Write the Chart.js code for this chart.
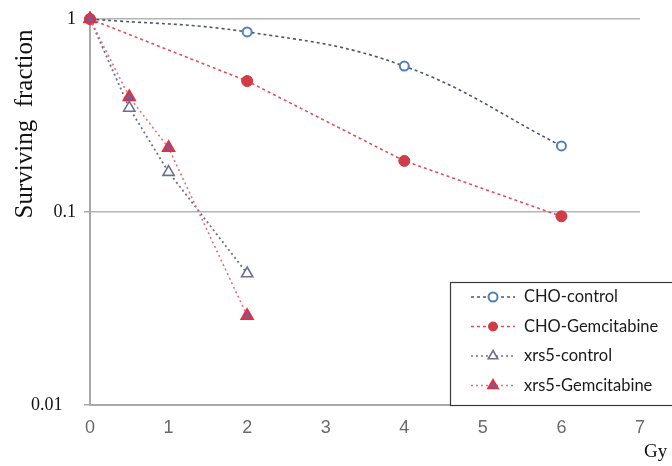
<!DOCTYPE html>
<html>
<head>
<meta charset="utf-8">
<script src="https://cdn.jsdelivr.net/npm/chart.js@4.4.0/dist/chart.umd.min.js"></script>
<style>
  html, body { margin: 0; padding: 0; background: #fff; }
  #wrap { width: 672px; height: 466px; position: relative; }
</style>
</head>
<body>
<div id="wrap"><canvas id="chart" width="672" height="466"></canvas></div>
<script>
// dose (Gy) and surviving fraction
var choDose = [0, 2, 4, 6];
var choControl = [1, 0.857, 0.57, 0.22];
var choGem = [1, 0.477, 0.184, 0.095];
var xrsDose = [0, 0.5, 1, 2];
var xrsControl = [1, 0.346, 0.161, 0.048];
var xrsGem = [1, 0.394, 0.215, 0.029];
var yTicks = [0.01, 0.1, 1];
var xTicks = [0, 1, 2, 3, 4, 5, 6, 7];

function pts(xs, ys) {
    return xs.map(function (x, i) { return { x: x, y: ys[i] }; });
}

var datasets = [
    { label: 'CHO-control', data: pts(choDose, choControl), borderColor: '#4d5566', borderDash: [3, 3], borderWidth: 1.6,
      tension: 0.4, pointStyle: 'circle', pointRadius: 4.5, pointBorderWidth: 2,
      pointBorderColor: '#4f7fbd', pointBackgroundColor: '#ffffff', order: 4 },
    { label: 'CHO-Gemcitabine', data: pts(choDose, choGem), borderColor: '#e0505a', borderDash: [3, 3], borderWidth: 1.6,
      tension: 0, pointStyle: 'circle', pointRadius: 5.5, pointBorderWidth: 1,
      pointBorderColor: '#cc3a45', pointBackgroundColor: '#d23c47', order: 3 },
    { label: 'xrs5-control', data: pts(xrsDose, xrsControl), borderColor: '#6d7384', borderDash: [2, 3], borderWidth: 1.8,
      tension: 0, pointStyle: 'triangle', pointRadius: 6.5, pointBorderWidth: 1.6,
      pointBorderColor: '#6a7090', pointBackgroundColor: '#ffffff', order: 2 },
    { label: 'xrs5-Gemcitabine', data: pts(xrsDose, xrsGem), borderColor: '#e8707a', borderDash: [2, 3], borderWidth: 1.6,
      tension: 0, pointStyle: 'triangle', pointRadius: 6.5, pointBorderWidth: 2,
      pointBorderColor: '#e03040', pointBackgroundColor: '#7a5a9c', order: 1 }
];
datasets.forEach(function (d) { d.clip = false; d.fill = false; });

var boxLegend = {
    id: 'boxLegend',
    afterDatasetsDraw: function (chart) {
        var ctx = chart.ctx;
        var left = 450, top = 282, right = 700, bottom = 405;
        ctx.save();
        ctx.fillStyle = '#ffffff';
        ctx.fillRect(left, top, right - left, bottom - top);
        ctx.strokeStyle = '#3a3a3a';
        ctx.lineWidth = 1.2;
        ctx.strokeRect(left + 0.5, top + 0.5, right - left, bottom - top);
        chart.data.datasets.forEach(function (ds, i) {
            var y = 297 + i * 29.5;
            ctx.strokeStyle = ds.borderColor;
            ctx.lineWidth = 1.4;
            ctx.setLineDash(ds.borderDash);
            ctx.beginPath();
            ctx.moveTo(471, y);
            ctx.lineTo(515, y);
            ctx.stroke();
            ctx.setLineDash([]);
            ctx.fillStyle = ds.pointBackgroundColor;
            ctx.strokeStyle = ds.pointBorderColor;
            ctx.lineWidth = ds.pointBorderWidth;
            Chart.helpers.drawPoint(ctx, { pointStyle: ds.pointStyle, radius: ds.pointStyle === 'triangle' ? 5.5 : 4.5,
                rotation: 0, borderWidth: ds.pointBorderWidth }, 493, y);
            ctx.fillStyle = '#1a1a1a';
            ctx.font = '16.5px Lato, "Open Sans", sans-serif';
            ctx.textBaseline = 'middle';
            ctx.textAlign = 'left';
            ctx.fillText(ds.label, 524, y);
        });
        ctx.restore();
    },
    afterDraw: function (chart) {
        var ctx = chart.ctx;
        ctx.save();
        ctx.fillStyle = '#111';
        ctx.font = '19px "Liberation Serif", "DejaVu Serif", serif';
        ctx.textAlign = 'left';
        ctx.textBaseline = 'middle';
        ctx.fillText('Gy', 644, 452);
        // y axis title, placed as in the figure (above the axis middle)
        ctx.translate(25, 124);
        ctx.rotate(-Math.PI / 2);
        ctx.textAlign = 'center';
        ctx.font = '25px "Liberation Serif", "DejaVu Serif", serif';
        ctx.fillText('Surviving  fraction', 0, 0);
        ctx.restore();
    }
};

new Chart(document.getElementById('chart'), {
    type: 'line',
    data: { datasets: datasets },
    plugins: [boxLegend],
    options: {
        responsive: false,
        animation: false,
        layout: { padding: { top: 19, right: 32, bottom: 0, left: 0 } },
        plugins: { legend: { display: false }, tooltip: { enabled: false } },
        scales: {
            x: {
                type: 'linear', min: 0, max: 7,
                afterBuildTicks: function (s) { s.ticks = xTicks.map(function (v) { return { value: v }; }); },
                afterFit: function (s) { s.height = 61; },
                grid: { display: false },
                border: { display: true, color: '#a8a8a8', width: 2 },
                ticks: { color: '#6a6a6a', padding: 4, font: { family: '"Liberation Sans Narrow", "Liberation Sans", sans-serif', size: 18 } }
            },
            y: {
                type: 'logarithmic', min: 0.01, max: 1,
                afterBuildTicks: function (s) { s.ticks = yTicks.map(function (v) { return { value: v }; }); },
                afterFit: function (s) { s.width = 90; },
                grid: { color: '#b4b4b4', lineWidth: 1.5, tickLength: 6, tickColor: '#a8a8a8' },
                border: { display: true, color: '#a8a8a8', width: 2 },
                ticks: { color: '#111', padding: 8,
                    font: { family: '"Liberation Serif", "DejaVu Serif", serif', size: 18 },
                    callback: function (v) { return v === 0.01 ? '0.01   ' : String(v); } }
            }
        }
    }
});
</script>
</body>
</html>
